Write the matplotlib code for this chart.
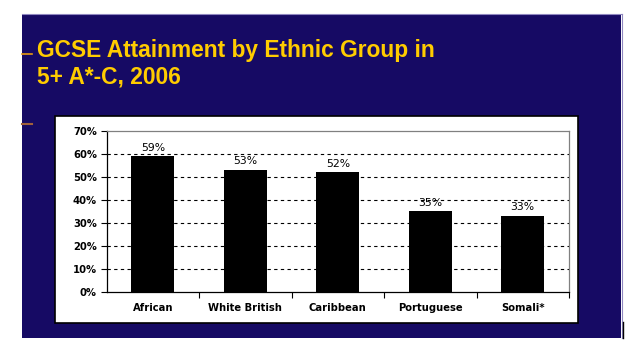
import matplotlib
matplotlib.use("Agg")
import matplotlib.pyplot as plt
from matplotlib.patches import Rectangle
from matplotlib.lines import Line2D
from matplotlib.ticker import FixedLocator, FuncFormatter

categories = ["African", "White British", "Caribbean", "Portuguese", "Somali*"]
values = [59, 53, 52, 35, 33]
yticks = [0, 10, 20, 30, 40, 50, 60, 70]
title_lines = ["GCSE Attainment by Ethnic Group in", "5+ A*-C, 2006"]

W, H = 644, 352
fig = plt.figure(figsize=(W / 100, H / 100), dpi=100)
fig.patch.set_facecolor("white")

def fx(px):
    return px / W

def fy(py):
    return 1 - py / H

navy = "#160A64"
# navy slide background
fig.patches.append(Rectangle((fx(22), fy(338)), fx(621) - fx(22), fy(14) - fy(338),
                             transform=fig.transFigure, facecolor=navy,
                             edgecolor="none", zorder=0))
# lavender edges on top and right
fig.lines.append(Line2D([fx(22), fx(621.5)], [fy(14), fy(14)], transform=fig.transFigure,
                        color="#9088C0", lw=0.8, zorder=1))
fig.lines.append(Line2D([fx(621.5), fx(621.5)], [fy(14), fy(338)], transform=fig.transFigure,
                        color="#9088C0", lw=0.8, zorder=1))
fig.lines.append(Line2D([fx(622.5), fx(622.5)], [fy(322), fy(338)], transform=fig.transFigure,
                        color="black", lw=1.0, zorder=1))
# orange accent dashes
fig.lines.append(Line2D([fx(22), fx(32)], [fy(53.7), fy(53.7)], transform=fig.transFigure,
                        color="#E89A10", lw=1.2, zorder=1))
fig.lines.append(Line2D([fx(22), fx(32)], [fy(123.7), fy(123.7)], transform=fig.transFigure,
                        color="#A0603A", lw=1.5, zorder=1))
# white chart panel
fig.patches.append(Rectangle((fx(55), fy(323.3)), fx(578) - fx(55), fy(115.7) - fy(323.3),
                             transform=fig.transFigure, facecolor="white",
                             edgecolor="black", lw=1.2, zorder=1))

# title
for i, line in enumerate(title_lines):
    fig.text(fx(37), fy(56.7 + i * 26.6), line, color="#FFCC00", fontsize=16.4,
             fontweight="bold", fontstretch="normal", family=["Liberation Sans", "DejaVu Sans"],
             va="baseline", ha="left")

ax = fig.add_axes([fx(106.7), fy(291.7), fx(569) - fx(106.7), fy(131) - fy(291.7)])
ax.set_facecolor("white")
ax.set_zorder(2)

x = list(range(len(categories)))
ax.bar(x, values, width=0.465, color="black", zorder=3)
ax.set_xlim(-0.5, len(categories) - 0.5)
ax.set_ylim(0, 70)

for xi, v in zip(x, values):
    ax.text(xi, v + 1.6, f"{v}%", ha="center", va="bottom", fontsize=7.8,
            family="DejaVu Sans", color="black", zorder=4)

ax.yaxis.set_major_locator(FixedLocator(yticks))
ax.yaxis.set_major_formatter(FuncFormatter(lambda v, p: f"{int(v)}%"))
for t in yticks[1:-1]:
    ax.axhline(t, color="black", lw=0.8, ls=(0, (3, 3)), zorder=1)

ax.set_xticks(x)
ax.set_xticklabels(categories)
ax.set_xticks([i + 0.5 for i in x], minor=True)
ax.tick_params(axis="x", which="major", length=0, pad=8, labelsize=7.2)
ax.tick_params(axis="x", which="minor", length=4, direction="out", width=0.8)
ax.tick_params(axis="y", length=4, direction="out", width=0.8, labelsize=7.2, pad=3)
for lab in ax.get_xticklabels() + ax.get_yticklabels():
    lab.set_fontweight("bold")
    lab.set_family("DejaVu Sans")

ax.spines["left"].set_color("black")
ax.spines["bottom"].set_color("black")
ax.spines["top"].set_color("#808080")
ax.spines["right"].set_color("#808080")
for s in ax.spines.values():
    s.set_linewidth(0.9)

fig.savefig("out.png", dpi=100)
